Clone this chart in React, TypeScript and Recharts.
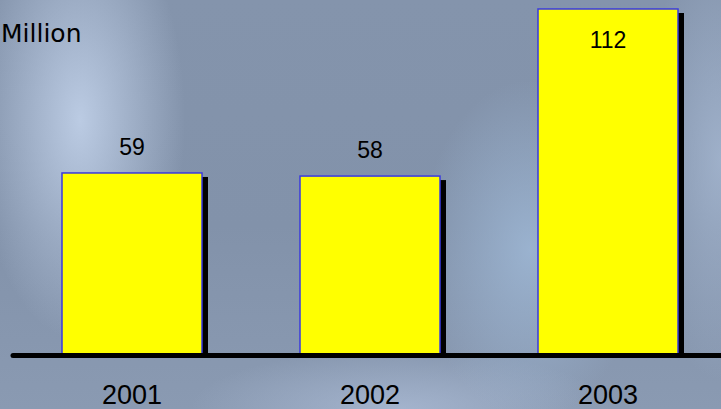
import React from 'react';
import { BarChart, Bar, XAxis, YAxis, LabelList } from 'recharts';

const years = ['2001', '2002', '2003'];
const revenue = [59, 58, 112];

const data = years.map((year, i) => ({ year, value: revenue[i] }));
const peak = Math.max(...revenue);

const BG = [
  'radial-gradient(ellipse 105px 220px at 80px 120px, rgba(190,206,230,0.95), rgba(190,206,230,0) 100%)',
  'radial-gradient(ellipse 110px 170px at 530px 250px, rgba(160,186,216,0.8), rgba(160,186,216,0) 100%)',
  'radial-gradient(ellipse 210px 60px at 400px 409px, rgba(172,188,214,0.75), rgba(172,188,214,0) 100%)',
  'radial-gradient(ellipse 80px 220px at 721px 160px, rgba(168,186,212,0.75), rgba(168,186,212,0) 100%)',
  'linear-gradient(180deg, #8494ac 0%, #8292aa 55%, #8a9ab2 100%)',
].join(', ');

// yellow column with a hard black drop shadow down and to the right
function ShadowBar(props: any) {
  const { x, y, width, height } = props;
  if (!height || height <= 0) return null;
  return (
    <g>
      <rect x={x + 6} y={y + 4} width={width} height={height - 4} fill="#000" />
      <rect x={x} y={y} width={width} height={height} fill="#ffff00" stroke="#3a3ae0" strokeWidth={1.5} />
    </g>
  );
}

function ValueLabel(props: any) {
  const { x, y, width, value } = props;
  const inside = value === peak;
  return (
    <text
      x={x + width / 2}
      y={inside ? y + 39 : y - 18}
      textAnchor="middle"
      fontFamily="'Liberation Sans', Arial, sans-serif"
      fontSize={23}
      fill="#000"
    >
      {value}
    </text>
  );
}

function YearTick(props: any) {
  const { x, y, payload } = props;
  return (
    <text x={x} y={y} dy="0.71em" textAnchor="middle" fontFamily="'Liberation Sans', Arial, sans-serif" fontSize={27} fill="#000">
      {payload.value}
    </text>
  );
}

export default function App() {
  return (
    <div style={{ position: 'absolute', left: 0, top: 0, width: 721, height: 409, overflow: 'hidden', background: BG }}>
      <svg width={200} height={60} style={{ position: 'absolute', left: 0, top: 0 }}>
        <text x={1} y={42} fontFamily="'DejaVu Sans', Verdana, sans-serif" fontSize={25} fill="#000">
          Million
        </text>
      </svg>
      <div style={{ position: 'absolute', left: 0, top: 0 }}>
        <BarChart width={740} height={409} data={data} margin={{ top: 9, right: 13, bottom: 0, left: 13 }} barSize={140}>
          <YAxis hide domain={[0, peak]} />
          <Bar dataKey="value" shape={<ShadowBar />} isAnimationActive={false}>
            <LabelList dataKey="value" content={<ValueLabel />} />
          </Bar>
          <XAxis
            dataKey="year"
            height={53.5}
            tickLine={false}
            tickSize={0}
            tickMargin={29}
            axisLine={{ stroke: '#000', strokeWidth: 5, strokeLinecap: 'round' }}
            tick={<YearTick />}
            interval={0}
          />
        </BarChart>
      </div>
    </div>
  );
}
